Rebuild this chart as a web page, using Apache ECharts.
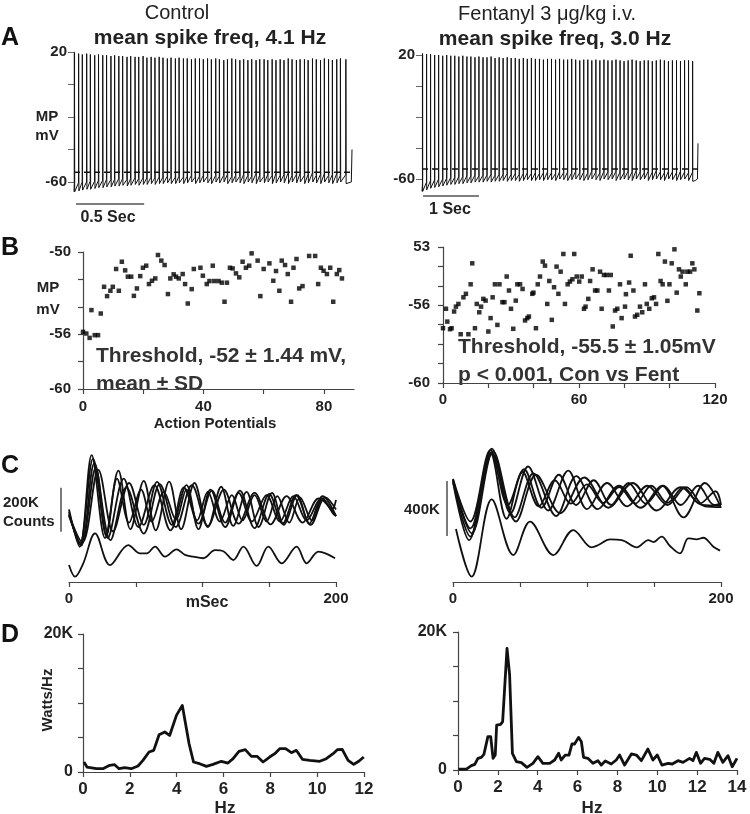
<!DOCTYPE html>
<html><head><meta charset="utf-8">
<script src="https://cdn.jsdelivr.net/npm/echarts@6/dist/echarts.min.js"></script>
<style>html,body{margin:0;padding:0;background:#fff}#c{width:750px;height:814px}</style>
</head><body><div id="c"></div>
<script>
const FONT = "'Liberation Sans', Arial, Helvetica, sans-serif";

// ---------- Panel A: spike trains (ms, mV) ----------
const aLeftT = [3,34,61,93,120,152,180,211,239,271,298,329,357,389,416,448,475,507,535,566,594,625,653,685,712,744,771,803,831,862,890,921,949,980,1008,1040,1067,1099,1126,1158,1186,1217,1245,1276,1304,1336,1363,1395,1422,1454,1482,1513,1541,1572,1600,1632,1659,1691,1718,1750,1778,1809,1837,1868,1896,1928,1955,1995];
const aLeftPeak = [19.5,19,18.5,19,18.5,18,18.5,18,18,17.5,18,17.5,17.5,17,17.5,17,17,17.5,16.5,17,16.5,17,16.5,16,16.5,16,16.5,16,16,15.5,16,16,15.5,16,15.5,16,15.5,15,15.5,16,15.5,15,15.5,15,15.5,15,15.5,15.5,15,15.5,15,15.5,15,16,15.5,15,15.5,15.5,15,16,15.5,15,16,15.5,15,15.5,16,15.5];
const aLeftTrough = [-66,-65.5,-65,-64.5,-64.5,-64,-63.5,-63.5,-63,-63,-62.5,-62.5,-62,-62.5,-62,-61.5,-62,-61.5,-61.5,-61,-61.5,-61,-61,-60.5,-61,-61,-60.5,-61,-60.5,-60,-61,-60.5,-60,-60.5,-61,-60,-60.5,-60,-61,-60.5,-60,-60.5,-61,-60,-60.5,-61,-60,-60.5,-60,-61,-60.5,-60,-60.5,-61,-60,-60.5,-60,-61,-60.5,-60,-60.5,-61,-60,-60.5,-61,-60.5,-60,-61];
const aLeftPre = [-61,-60.5,-60,-60,-59.5,-59.5,-59,-59,-58.5,-58.5,-58.5,-58,-58,-58.5,-58,-57.5,-58,-57.5,-57.5,-57,-57.5,-57,-57,-56.5,-57,-57,-56.5,-57,-56.5,-56,-57,-56.5,-56,-56.5,-57,-56,-56.5,-56,-55.5,-56.5,-56,-56.5,-55.5,-56,-56.5,-55,-56,-56.5,-55.5,-56,-55,-56,-55.5,-54.5,-56,-55.5,-55,-56,-55.5,-54.5,-56,-55.5,-55,-56,-55.5,-55,-56,-55.5];
const aLeftTail = [[2010,-61],[2035,-60],[2040,-40]];
const aLeftThreshold = -54;

const aRightT = [10,82,153,226,297,370,441,514,585,658,729,802,873,946,1017,1090,1161,1234,1305,1378,1449,1522,1593,1666,1737,1810,1881,1954,2025,2098,2169,2242,2313,2386,2457,2530,2601,2674,2745,2818,2889,2962,3033,3106,3177,3250,3321,3394,3465,3538,3609,3682,3753,3826,3897,3970,4041,4114,4185,4258,4329,4402,4473,4546,4617,4690,4761,4834];
const aRightPeak = [21,20.5,20.5,20,20,19.5,20,19.5,19.5,19,19.5,19,19,18.5,19,18.5,18.5,19,18,18.5,18,18.5,18,18,17.5,18,17.5,18,17.5,17.5,17,17.5,17.5,17,17.5,17,17,17.5,17,16.5,17,17,16.5,17,16.5,17,16.5,16.5,17,16.5,16,16.5,17,16.5,16,16.5,16.5,16,16.5,17,16.5,16,16.5,16.5,16,16.5,16.5,16];
const aRightTrough = [-68,-67,-66,-65.5,-65,-64.5,-64,-63.5,-63.5,-63,-63,-62.5,-62.5,-62,-62,-62,-61.5,-62,-61.5,-61.5,-61,-61.5,-61,-61,-61.5,-61,-60.5,-61,-61,-60.5,-61,-60.5,-60.5,-61,-60,-60.5,-61,-60.5,-60,-60.5,-61,-60.5,-60,-60.5,-61,-60,-60.5,-60,-61,-60.5,-60,-60.5,-61,-60,-60.5,-60,-61,-60.5,-60,-60.5,-61,-60,-60.5,-61,-60.5,-60,-61,-61.5];
const aRightPre = [-63,-62,-61,-60.5,-60,-60,-59.5,-59,-59,-58.5,-58.5,-58,-58,-57.5,-58,-57.5,-57.5,-57,-57.5,-57,-57,-56.5,-57,-56.5,-57,-56.5,-56,-56.5,-56,-56.5,-56,-55.5,-56,-56.5,-55.5,-56,-55.5,-56,-55,-56,-55.5,-56,-55,-55.5,-56,-55,-55.5,-56,-55,-55.5,-56,-55,-55.5,-54.5,-55.5,-56,-55,-55.5,-54.5,-55.5,-56,-55,-55.5,-56,-55,-55.5,-56,-55.5];
const aRightTail = [[4880,-61],[4920,-60],[4930,-37]];
const aRightThreshold = -53.5;

const aYTicksShown = [20, -60];

// ---------- Panel B: thresholds (AP index, mV) ----------
const bLeftAP = [0,1.1,2.2,2.8,3.9,5,5.9,7,8,9.1,9.9,11,11.9,12.9,14,14.9,16,16.9,17.9,19,19.9,21,21.9,22.9,24,24.9,26,27.1,28.2,29,30.1,30.9,31.8,33.1,33.9,34.8,36.1,36.8,39,39.8,41.1,42,43.1,43.6,45,46.1,47,47.8,48.8,49.7,50.8,51.9,53,54.1,55.2,56,58,58.9,60,61,61.9,63.2,64.1,65.2,66,67.1,68,69.1,69.9,70.9,71.8,72.9,75.1,77.1,78.1,79,79.9,81,82.1,83.1,84.3,85.1,86];
const bLeftMV = [-55.83,-55.95,-56.27,-54.24,-56.07,-56.07,-54.49,-52.54,-53.22,-52.83,-52.54,-51.24,-52.83,-50.71,-51.34,-51.8,-51.8,-53.2,-52.66,-51.76,-51.15,-51,-52.34,-52.1,-51.93,-50.22,-50.63,-50.95,-53.07,-51.93,-51.63,-51.8,-51.93,-51.61,-52.34,-53.76,-52.71,-51.24,-51.15,-51.73,-52.34,-52.12,-51,-52.12,-52.12,-52.24,-53.63,-52.24,-51.15,-51.2,-51.56,-51.85,-50.71,-51.15,-51,-50.1,-50.63,-53.22,-51.24,-49.93,-50.83,-52.1,-51.39,-52.83,-50.63,-50.95,-51.61,-53.63,-51.15,-50.51,-52.66,-52.49,-50.29,-50.29,-52.34,-51.15,-51.37,-51.61,-51.15,-53.63,-51.61,-51.32,-51.93];
const bRightAP = [0,1.3,1.9,3.1,3.8,4.9,5.7,6.8,7.8,9,10.1,11.2,12.2,12.9,14.1,14.9,16,16.8,17.8,18.8,20,21,21.9,22.9,24,24.9,26.2,27.1,28.1,29.1,30,31,32.1,32.8,34,35.1,36.2,37.2,37.9,39.4,39.9,41,41.8,42.8,44,45,46,46.9,48,49,50.1,50.9,51.9,53.1,53.8,55,56,57.1,57.9,59,60.1,61.2,62.2,62.9,64.1,64.9,66,67.1,68.1,69.3,70,71,72.2,73.2,74,74.9,75.9,76.9,78.1,78.8,80.3,80.7,82.1,82.8,84,84.7,85.7,86.9,87.9,89.1,89.9,91,92.1,93.1,94,95,96,96.9,97.9,99,99.9,100.9,102.1,103.1,104.1,104.9,105.7,107.1,107.8,109,110,110.9,112.2,113.1];
const bRightMV = [-57.18,-56.18,-56.84,-57.23,-57.18,-56.32,-56.07,-55.93,-57.49,-55.59,-55.41,-57.49,-54.92,-53.84,-57.18,-55.93,-56.36,-56.07,-55.67,-55.76,-57.35,-56.66,-55.59,-54.92,-57.01,-54.92,-55.84,-55.84,-54.52,-55.24,-56.18,-57.21,-55.76,-54.92,-54.92,-55.16,-56.78,-56.66,-56.58,-55.41,-55.35,-57.18,-54.92,-54.52,-53.75,-53.96,-55.93,-54.75,-56.75,-55.07,-54.01,-55.41,-54.27,-53.36,-55.93,-54.92,-54.78,-54.66,-53.36,-54.52,-54.78,-54.52,-56.18,-56.07,-55.67,-54.75,-54.15,-55.24,-55.24,-54.27,-56.18,-54.44,-54.44,-55.24,-54.44,-57.09,-56.27,-56.18,-54.92,-56.66,-56.07,-55.43,-54.83,-53.45,-55.24,-56.58,-56.49,-56.07,-56.36,-54.92,-55.93,-56.18,-55.64,-55.59,-55.93,-53.36,-54.75,-54.92,-53.75,-55.77,-54.92,-53.84,-53.12,-55.35,-54.15,-54.52,-54.27,-54.92,-54.27,-54.27,-53.84,-54.15,-56.27,-55.38];

// ---------- Panel C: autocorrelograms (ms, K counts) ----------
const cL1 = [[0,330],[8,160],[17,577],[27,200],[37,506],[46,240],[56,460],[65,235],[75,456],[84,240],[94,450],[104,250],[114,433],[123,255],[133,410],[142,250],[152,405],[161,260],[171,395],[180,265],[190,390],[200,300]];
const cL2 = [[0,320],[8,170],[18,560],[29,200],[41,470],[52,250],[64,440],[76,235],[88,440],[97,240],[106,420],[117,250],[128,415],[139,245],[150,400],[160,265],[170,395],[181,260],[192,385],[200,330]];
const cL3 = [[0,310],[9,165],[19,540],[31,190],[43,430],[56,220],[68,445],[80,250],[92,440],[104,255],[116,420],[127,265],[139,405],[151,262],[163,390],[175,270],[187,380],[200,300]];
const cL4 = [[0,300],[9,175],[20,520],[28,210],[36,470],[45,270],[54,420],[62,275],[71,410],[80,285],[88,420],[96,280],[104,410],[113,275],[122,395],[130,280],[139,395],[148,275],[156,390],[165,270],[173,385],[182,280],[190,380],[197,330],[200,373]];
const cL5 = [[0,305],[10,180],[22,510],[33,230],[45,450],[56,260],[66,455],[77,260],[86,430],[97,265],[107,415],[117,270],[127,405],[137,275],[148,395],[158,275],[168,390],[178,280],[189,380],[198,310],[200,300]];
const cLLow = [[0,77],[4.5,24],[10.7,85],[19.5,221],[30.7,77],[44.4,168],[53.2,130],[58.2,130],[64.4,161],[71.9,115],[80.6,148],[86.9,123],[93.1,115],[100.6,108],[109.4,145],[115.6,140],[123.1,100],[130.6,161],[140.6,73],[149.3,161],[159.3,85],[170.5,161],[178,85],[186.8,138],[193,128],[199.3,108]];
const cR1 = [[0,750],[13,440],[28,960],[41,560],[53,820],[66,540],[79,780],[92,560],[105,740],[118,560],[131,720],[144,570],[157,700],[170,560],[183,700],[195,560],[200,570]];
const cR2 = [[0,745],[13,390],[29,970],[43,500],[56,840],[71,520],[86,810],[100,530],[115,720],[130,550],[145,700],[160,560],[174,690],[188,550],[200,545]];
const cR3 = [[0,740],[14,354],[30,950],[46,470],[60,790],[77,480],[92,770],[108,530],[124,700],[140,540],[156,700],[172,470],[188,720],[200,540]];
const cR4 = [[0,735],[13,330],[29,930],[47,440],[62,780],[80,500],[98,760],[116,540],[134,720],[152,520],[170,690],[186,560],[200,555]];
const cR5 = [[0,725],[12,305],[28,940],[40,460],[52,800],[64,550],[76,740],[88,570],[100,710],[112,575],[124,690],[136,570],[148,700],[160,575],[172,690],[184,570],[196,660],[200,560]];
const cRLow = [[2.2,385],[13.9,39],[28.9,601],[45,196],[57.5,439],[74.9,196],[89.8,378],[103.5,252],[108.5,269],[117.2,310],[125.9,305],[137.1,252],[145.8,305],[149.5,290],[155.7,330],[161.9,262],[169.4,208],[175.6,318],[181.8,310],[186.8,322],[194.3,257],[199.3,228]];
const cLeftBar = [228, 428];   // 200K scale bar
const cRightBar = [335, 735];  // 400K scale bar

// ---------- Panel D: power spectra (Hz, K Watts/Hz) ----------
const dLeft = [[0.04,1.45],[0.17,0.72],[0.57,0.48],[0.85,0.48],[1.14,0.97],[1.35,1.06],[1.54,0.48],[1.78,0.63],[2.06,0.48],[2.35,0.87],[2.56,1.69],[2.82,2.9],[3.02,3.14],[3.25,5.41],[3.49,5.8],[3.7,5.3],[3.99,8.2],[4.24,9.66],[4.53,4.1],[4.72,1.45],[4.98,1.2],[5.27,0.82],[5.55,1.1],[5.91,1.55],[6.19,1.3],[6.41,1.93],[6.66,3.0],[6.93,3.24],[7.19,2.27],[7.43,2.27],[7.69,1.45],[7.97,2.17],[8.19,2.66],[8.4,3.38],[8.65,3.38],[8.9,2.8],[9.11,3.14],[9.37,1.84],[9.68,1.69],[10.11,1.55],[10.39,1.93],[10.68,2.66],[10.86,3.24],[11.07,3.29],[11.32,1.69],[11.56,1.1],[11.79,1.6],[11.99,2.17]];
const dRight = [[0.03,0.14],[0.42,0.14],[0.67,0.63],[0.84,0.82],[1.0,1.69],[1.17,1.84],[1.3,2.27],[1.5,4.83],[1.64,4.83],[1.76,1.69],[1.87,2.17],[1.94,6.52],[2.14,6.62],[2.24,7.0],[2.46,17.63],[2.59,13.77],[2.73,2.42],[2.93,1.2],[3.18,1.06],[3.46,0.39],[3.76,0.97],[4.01,1.93],[4.26,0.97],[4.6,0.97],[4.85,1.45],[5.05,2.42],[5.18,1.45],[5.38,2.17],[5.57,2.17],[5.72,3.77],[5.85,3.77],[6.05,4.73],[6.19,4.1],[6.3,1.84],[6.52,1.69],[6.77,0.97],[7.02,1.35],[7.19,0.72],[7.39,1.3],[7.69,0.87],[7.94,1.45],[8.11,2.17],[8.36,0.72],[8.7,2.32],[8.95,2.17],[9.2,1.35],[9.53,3.04],[9.78,1.45],[10.0,2.17],[10.23,0.72],[10.54,0.97],[10.75,0.87],[11.04,1.35],[11.29,1.11],[11.62,1.69],[11.79,1.35],[11.96,2.56],[12.17,0.97],[12.37,1.69],[12.63,1.55],[12.84,0.97],[13.04,2.56],[13.29,1.11],[13.55,2.08],[13.76,0.48],[14.0,1.69]];

// ---------- build ----------
function spikeTrace(T, pre, peak, trough, tail) {
  const pts = [[0, trough[0]]];
  for (let i = 0; i < T.length; i++) {
    pts.push([T[i] - 1, pre[i]], [T[i], peak[i]], [T[i] + 2, trough[i]]);
  }
  return pts.concat(tail);
}
function zip(a, b) { return a.map((v, i) => [v, b[i]]); }

const AX = '#444';
const lbl = (size) => ({ fontFamily: FONT, fontWeight: 'bold', fontSize: size, color: '#222' });
function showOnly(list, map) {
  return v => {
    for (const x of list) if (Math.abs(v - x) < 1e-6) return map && map[x] !== undefined ? map[x] : String(x);
    return '';
  };
}
function valAxis(o) {
  return Object.assign({
    type: 'value', splitLine: { show: false },
    axisLine: { show: true, lineStyle: { color: AX, width: 1.2 } },
    axisTick: { show: true, length: 5, lineStyle: { color: AX, width: 1.2 } }
  }, o);
}

const grids = [
  { left: 74, top: 52, width: 278, height: 130 },
  { left: 422, top: 55, width: 276, height: 124 },
  { left: 83, top: 252, width: 271, height: 137 },
  { left: 443, top: 247, width: 272, height: 136 },
  { left: 69, top: 439, width: 267, height: 143 },
  { left: 453, top: 439, width: 268, height: 143 },
  { left: 83, top: 634, width: 281, height: 138 },
  { left: 458, top: 632, width: 279, height: 138 },
  { left: 56, top: 439, width: 10, height: 143 },   // scale-bar strip, C left
  { left: 442, top: 439, width: 10, height: 143 }   // scale-bar strip, C right
];

const xAxes = [
  valAxis({ gridIndex: 0, min: 0, max: 2040, show: false }),
  valAxis({ gridIndex: 1, min: 0, max: 4930, show: false }),
  valAxis({ gridIndex: 2, min: 0, max: 90, interval: 20, axisLabel: Object.assign(lbl(15), { margin: 10, formatter: showOnly([0, 40, 80]), showMaxLabel: false }) }),
  valAxis({ gridIndex: 3, min: 0, max: 120, interval: 20, axisLabel: Object.assign(lbl(15), { margin: 9, formatter: showOnly([0, 60, 120]) }) }),
  valAxis({ gridIndex: 4, min: 0, max: 200, interval: 50, axisLabel: Object.assign(lbl(15), { margin: 9, formatter: showOnly([0, 200]) }) }),
  valAxis({ gridIndex: 5, min: 0, max: 200, interval: 50, axisLabel: Object.assign(lbl(15), { margin: 9, formatter: showOnly([0, 200]) }) }),
  valAxis({ gridIndex: 6, min: 0, max: 12, interval: 2, axisLabel: Object.assign(lbl(17), { margin: 9 }) }),
  valAxis({ gridIndex: 7, min: 0, max: 14, interval: 2, axisLabel: Object.assign(lbl(17), { margin: 9 }) }),
  valAxis({ gridIndex: 8, min: 0, max: 10, show: false }),
  valAxis({ gridIndex: 9, min: 0, max: 10, show: false })
];
const yAxes = [
  valAxis({ gridIndex: 0, min: -60, max: 20, interval: 20, axisTick: { length: 6, lineStyle: { color: '#666' } }, axisLine: { lineStyle: { color: '#666', width: 1.2 } }, axisLabel: Object.assign(lbl(15), { margin: 7, formatter: showOnly(aYTicksShown) }) }),
  valAxis({ gridIndex: 1, min: -60, max: 20, interval: 20, axisTick: { length: 6, lineStyle: { color: '#666' } }, axisLine: { lineStyle: { color: '#666', width: 1.2 } }, axisLabel: Object.assign(lbl(15), { margin: 7, formatter: showOnly(aYTicksShown) }) }),
  valAxis({ gridIndex: 2, min: -60, max: -50, interval: 2, offset: 2, axisLabel: Object.assign(lbl(15), { margin: 10, formatter: showOnly([-50, -56, -60]) }) }),
  valAxis({ gridIndex: 3, min: -60, max: -53, interval: 1, offset: 3, axisLabel: Object.assign(lbl(15), { margin: 10, formatter: showOnly([-53, -56, -60], { '-53': '53' }) }) }),
  valAxis({ gridIndex: 4, min: 0, max: 650, show: false }),
  valAxis({ gridIndex: 5, min: 0, max: 1040, show: false }),
  valAxis({ gridIndex: 6, min: 0, max: 20, interval: 5, offset: 1, axisLabel: Object.assign(lbl(16), { margin: 9, formatter: showOnly([0, 20], { '20': '20K' }) }) }),
  valAxis({ gridIndex: 7, min: 0, max: 20, interval: 5, offset: 2, axisLabel: Object.assign(lbl(16), { margin: 9, formatter: showOnly([0, 20], { '20': '20K' }) }) }),
  valAxis({ gridIndex: 8, min: 0, max: 650, show: false }),
  valAxis({ gridIndex: 9, min: 0, max: 1040, show: false })
];

function line(idx, data, style, extra) {
  return Object.assign({
    type: 'line', xAxisIndex: idx, yAxisIndex: idx, data: data, showSymbol: false, symbol: 'none',
    clip: false, animation: false, silent: true, lineStyle: style
  }, extra || {});
}

const series = [
  line(0, spikeTrace(aLeftT, aLeftPre, aLeftPeak, aLeftTrough, aLeftTail), { color: '#111', width: 1 }),
  line(0, [[0, aLeftThreshold], [2040, aLeftThreshold]], { color: '#111', width: 1.5, type: [6, 4] }, { z: 5 }),
  line(0, [[15, -73.5], [515, -73.5]], { color: '#555', width: 1.5 }),
  line(1, spikeTrace(aRightT, aRightPre, aRightPeak, aRightTrough, aRightTail), { color: '#111', width: 1 }),
  line(1, [[0, aRightThreshold], [4930, aRightThreshold]], { color: '#111', width: 1.5, type: [6, 4] }, { z: 5 }),
  line(1, [[18, -71], [1018, -71]], { color: '#555', width: 1.5 }),
  { type: 'scatter', xAxisIndex: 2, yAxisIndex: 2, data: zip(bLeftAP, bLeftMV), symbol: 'rect', symbolSize: 4.5, itemStyle: { color: '#000' }, animation: false, silent: true },
  { type: 'scatter', xAxisIndex: 3, yAxisIndex: 3, data: zip(bRightAP, bRightMV), symbol: 'rect', symbolSize: 4.5, itemStyle: { color: '#000' }, animation: false, silent: true }
];
[cL1, cL2, cL3, cL4, cL5, cLLow].forEach(d => series.push(line(4, d, { color: '#111', width: 1.8 }, { smooth: 0.35 })));
[cR1, cR2, cR3, cR4, cR5, cRLow].forEach(d => series.push(line(5, d, { color: '#111', width: 1.8 }, { smooth: 0.35 })));
series.push(line(8, [[5, cLeftBar[0]], [5, cLeftBar[1]]], { color: '#333', width: 1.3 }));
series.push(line(9, [[5, cRightBar[0]], [5, cRightBar[1]]], { color: '#333', width: 1.3 }));
series.push(line(6, dLeft, { color: '#111', width: 2.8, join: 'round' }));
series.push(line(7, dRight, { color: '#111', width: 2.8, join: 'round' }));

function txt(x, y, text, size, opts) {
  opts = opts || {};
  return {
    type: 'text', x: x, y: y, rotation: opts.rot || 0, silent: true,
    style: {
      text: text, fill: opts.fill || '#222',
      font: (opts.weight || 'bold') + ' ' + size + 'px ' + FONT,
      align: opts.align || 'center', textAlign: opts.align || 'center',
      verticalAlign: 'middle', textVerticalAlign: 'middle'
    }
  };
}

const graphic = [
  txt(1, 38, 'A', 25, { align: 'left', fill: '#111' }),
  txt(1, 248, 'B', 25, { align: 'left', fill: '#111' }),
  txt(1, 466, 'C', 25, { align: 'left', fill: '#111' }),
  txt(1, 635, 'D', 25, { align: 'left', fill: '#111' }),
  txt(177, 13, 'Control', 20, { weight: 'normal' }),
  txt(210, 38, 'mean spike freq, 4.1 Hz', 21),
  txt(547, 14, 'Fentanyl 3 \u03BCg/kg i.v.', 20, { weight: 'normal' }),
  txt(555, 39, 'mean spike freq, 3.0 Hz', 21),
  txt(47, 117, 'MP', 15),
  txt(47, 136, 'mV', 15),
  txt(108, 218, '0.5 Sec', 16),
  txt(450, 210, '1 Sec', 16),
  txt(48, 288, 'MP', 15),
  txt(48, 310, 'mV', 15),
  txt(96, 356, 'Threshold, -52 \u00B1 1.44 mV,', 21, { align: 'left', fill: '#333' }),
  txt(96, 384, 'mean \u00B1 SD', 21, { align: 'left', fill: '#333' }),
  txt(215, 424, 'Action Potentials', 15),
  txt(458, 347, 'Threshold, -55.5 \u00B1 1.05mV', 21, { align: 'left', fill: '#333' }),
  txt(458, 375, 'p < 0.001, Con vs Fent', 21, { align: 'left', fill: '#333' }),
  txt(3, 503, '200K', 15, { align: 'left' }),
  txt(3, 522, 'Counts', 15, { align: 'left' }),
  txt(404, 510, '400K', 15, { align: 'left' }),
  txt(207, 603, 'mSec', 16),
  txt(48, 700, 'Watts/Hz', 15, { rot: Math.PI / 2 }),
  txt(225, 808, 'Hz', 17),
  txt(592, 808, 'Hz', 17)
];

const chart = echarts.init(document.getElementById('c'), null, { renderer: 'canvas' });
chart.setOption({
  animation: false,
  backgroundColor: '#fff',
  grid: grids,
  xAxis: xAxes,
  yAxis: yAxes,
  series: series,
  graphic: graphic
});
</script>
</body></html>
